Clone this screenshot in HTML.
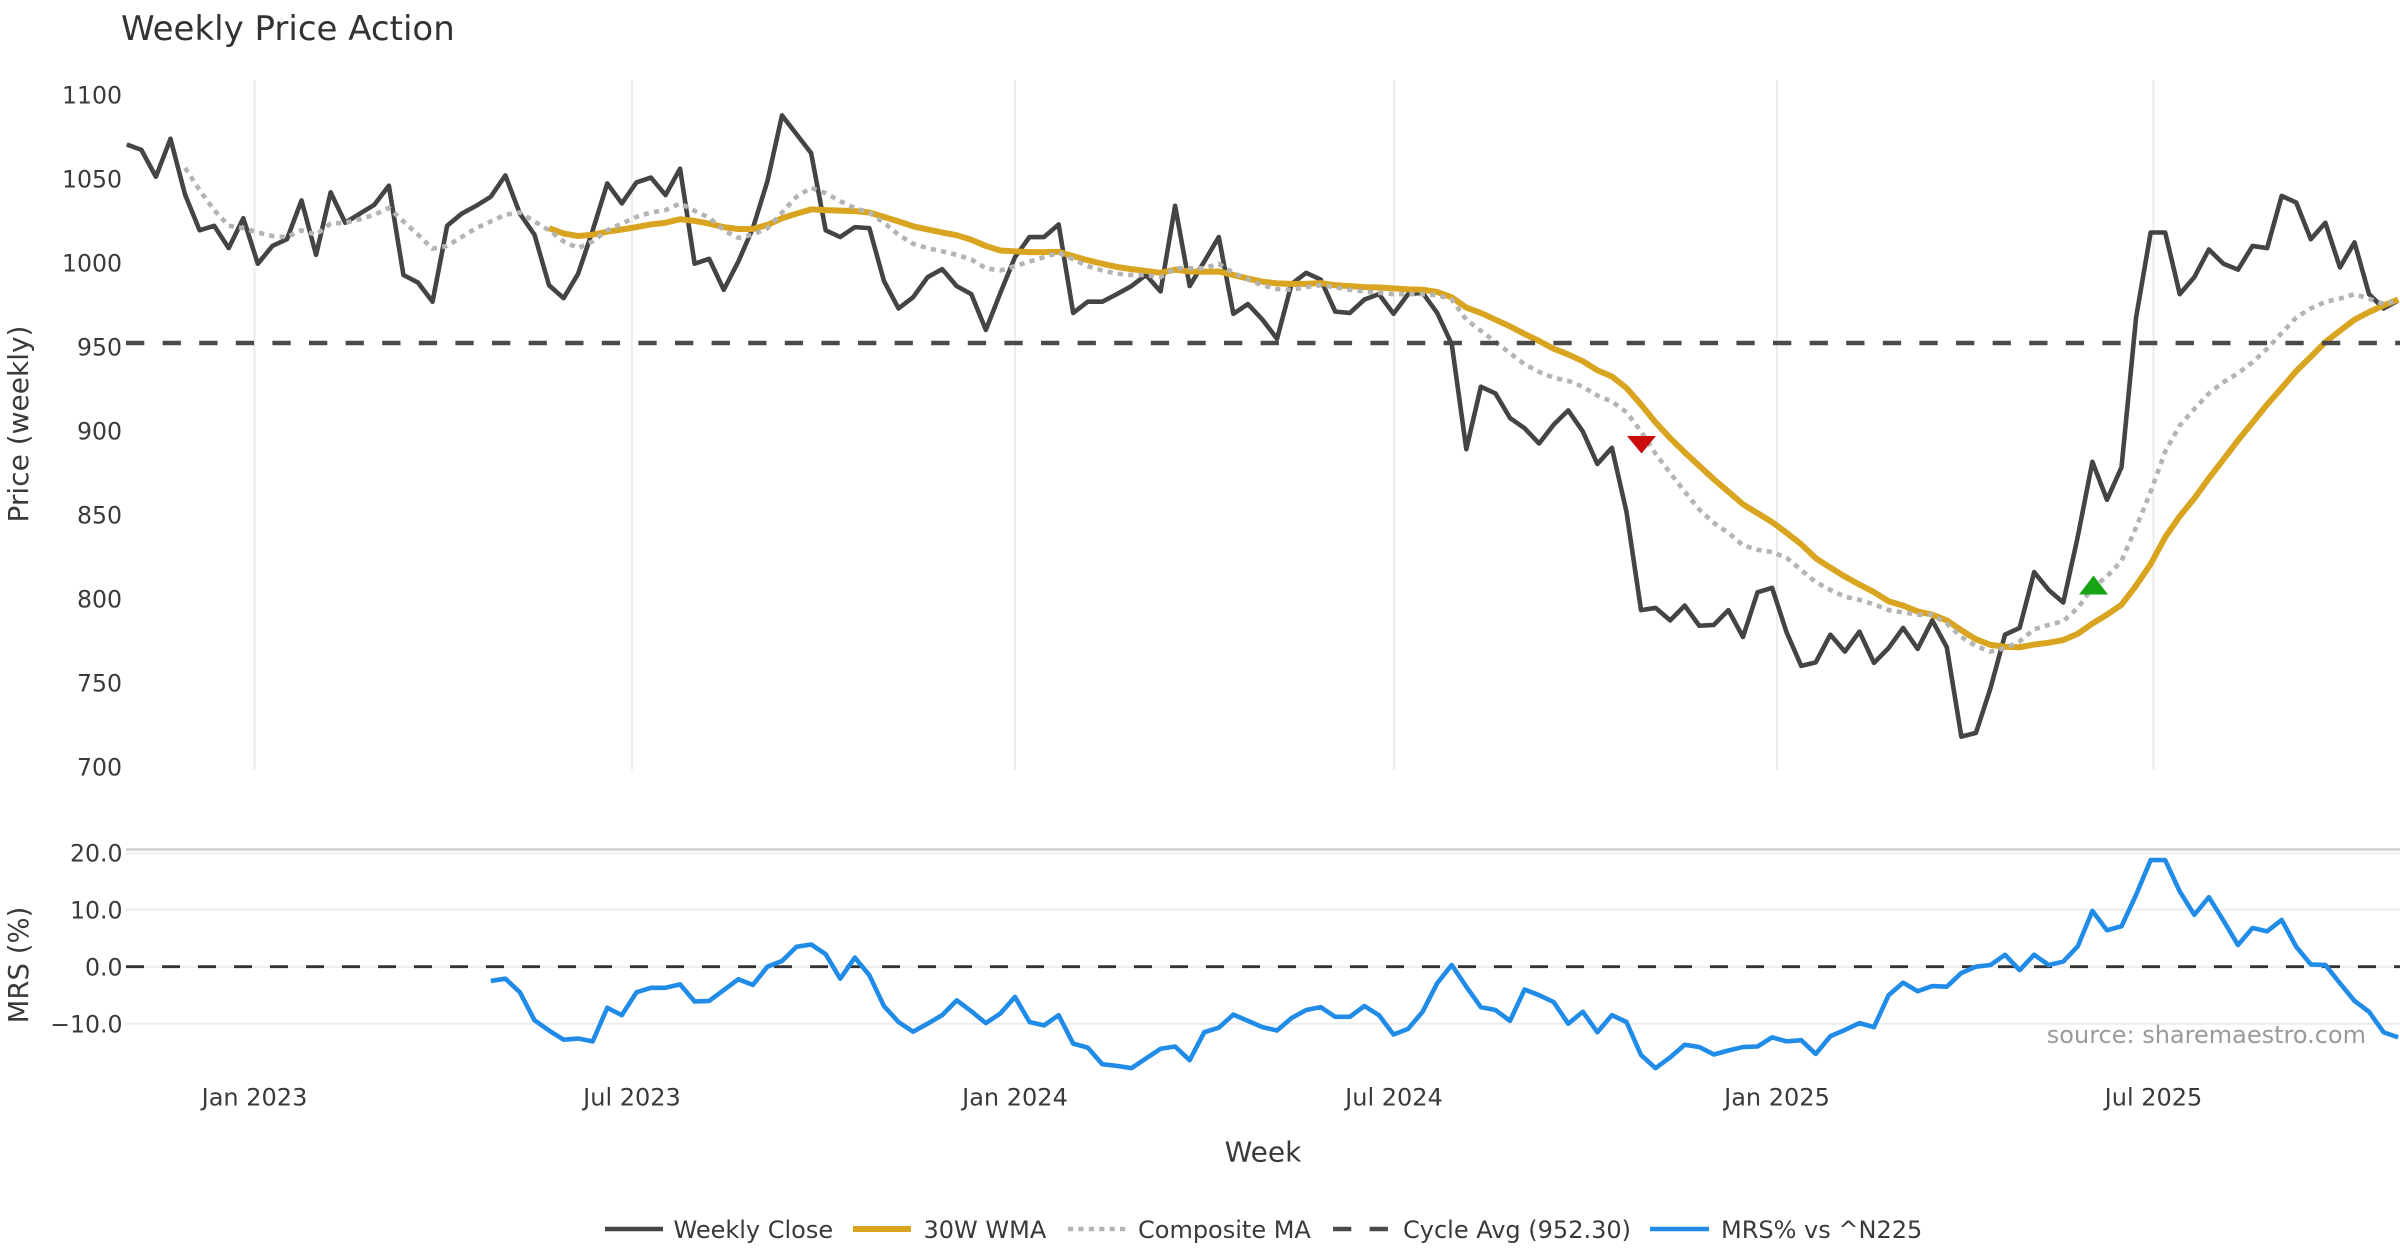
<!DOCTYPE html>
<html>
<head>
<meta charset="utf-8">
<style>
html,body{margin:0;padding:0;background:#fff;width:2400px;height:1260px;overflow:hidden;}
svg{display:block;}
text{font-family:"DejaVu Sans","Liberation Sans",sans-serif;}
</style>
</head>
<body>
<svg xmlns="http://www.w3.org/2000/svg" width="2400" height="1260" viewBox="0 0 2400 1260">
<rect x="0" y="0" width="2400" height="1260" fill="#ffffff"/>

<!-- Title -->
<text x="121" y="40" font-size="34" fill="#333">Weekly Price Action</text>

<!-- Price panel vertical gridlines -->
<g stroke="#ececec" stroke-width="2">
<line x1="254.5" y1="80" x2="254.5" y2="770"/>
<line x1="632" y1="80" x2="632" y2="770"/>
<line x1="1015" y1="80" x2="1015" y2="770"/>
<line x1="1394" y1="80" x2="1394" y2="770"/>
<line x1="1777" y1="80" x2="1777" y2="770"/>
<line x1="2153.5" y1="80" x2="2153.5" y2="770"/>
</g>

<!-- Price y tick labels -->
<g font-size="23.6" fill="#3a3a3a" text-anchor="end">
<text x="122" y="103.5">1100</text>
<text x="122" y="187.5">1050</text>
<text x="122" y="271.5">1000</text>
<text x="122" y="355.5">950</text>
<text x="122" y="439.5">900</text>
<text x="122" y="523.5">850</text>
<text x="122" y="607.5">800</text>
<text x="122" y="691.5">750</text>
<text x="122" y="775.5">700</text>
</g>

<!-- Y axis title price -->
<text x="0" y="0" font-size="28" fill="#3a3a3a" text-anchor="middle" transform="translate(28 424) rotate(-90)">Price (weekly)</text>

<!-- Weekly close -->
<polyline fill="none" stroke="#444444" stroke-width="4.6" stroke-linejoin="round" vector-effect="non-scaling-stroke" transform="matrix(14.56 0 0 -1.6798 126.8 1942.7)" points="0,1070.5 1,1067.3 2,1051.3 3,1073.9 4,1040.7 5,1019.4 6,1022.1 7,1008.8 8,1026.6 9,999.5 10,1010.1 11,1014.1 12,1037.2 13,1004.8 14,1042 15,1023.9 16,1029.3 17,1034.6 18,1046 19,992.8 20,988.3 21,976.9 22,1022.1 23,1029.3 24,1034 25,1039.4 26,1052.1 27,1029.3 28,1016.8 29,986.7 30,979 31,993.6 32,1019.4 33,1047.3 34,1035.4 35,1047.9 36,1050.8 37,1040.4 38,1056.1 39,999.5 40,1002.4 41,984 42,1000.8 43,1020.7 44,1048.7 45,1087.8 46,1076.6 47,1065.4 48,1019.4 49,1015.4 50,1021.3 51,1020.7 52,989.3 53,972.9 54,979.5 55,991.5 56,996.3 57,986.2 58,981.4 59,960.1 60,982.2 61,1003.4 62,1015.4 63,1015.4 64,1022.9 65,970.2 66,976.9 67,976.9 68,981.4 69,986.2 70,992.8 71,983 72,1034 73,986.2 74,1000.8 75,1015.4 76,969.7 77,975.5 78,966.2 79,954.8 80,987.5 81,994.1 82,990.1 83,971 84,970.2 85,978.2 86,981.4 87,969.7 88,981.4 89,982.2 90,970.2 91,951.6 92,889.1 93,926.3 94,922.3 95,907.7 96,901.6 97,892.5 98,903.7 99,912.2 100,899.7 101,880.3 102,889.9 103,851.8 104,793.3 105,794.6 106,787.2 107,796 108,784 109,784.5 110,793.3 111,777.3 112,803.9 113,806.6 114,780 115,760.1 116,762.2 117,778.7 118,768.6 119,780.5 120,761.9 121,770.7 122,782.7 123,770.2 124,787.2 125,771.2 126,718 127,720.2 128,746.8 129,778.7 130,782.7 131,815.9 132,805.3 133,797.8 134,837.2 135,881.6 136,859 137,878.4 138,967.5 139,1018.1 140,1018.1 141,981.4 142,991.5 143,1008 144,999.5 145,996 146,1010.1 147,1008.8 148,1039.9 149,1035.9 150,1014.1 151,1023.9 152,997.3 153,1012.2 154,981.4 155,972.9 156,977.6"/>

<!-- 30W WMA -->
<polyline fill="none" stroke="#d9a521" stroke-width="6" stroke-linejoin="round" vector-effect="non-scaling-stroke" transform="matrix(14.56 0 0 -1.6798 126.8 1942.7)" points="29,1020.7 30,1017.5 31,1016 32,1016.8 33,1018.6 34,1019.9 35,1021.3 36,1022.9 37,1023.9 38,1026 39,1025 40,1023.4 41,1021.3 42,1020.2 43,1020.2 44,1022.6 45,1026.6 46,1029.3 47,1031.9 48,1031.4 49,1031.1 50,1030.8 51,1030 52,1027.4 53,1024.7 54,1021.8 55,1019.9 56,1018.1 57,1016.5 58,1013.8 59,1010.1 60,1007.4 61,1006.9 62,1006.4 63,1006.4 64,1006.6 65,1004 66,1001.6 67,999.5 68,997.6 69,996.3 70,995.2 71,994.1 72,996 73,994.9 74,994.7 75,994.9 76,992.8 77,990.7 78,988.8 79,987.8 80,987.5 81,987.5 82,988 83,986.7 84,986.2 85,985.6 86,985.4 87,984.8 88,984.3 89,984 90,982.7 91,979.5 92,973.4 93,970.2 94,966.2 95,962.2 96,957.7 97,953.5 98,948.9 99,945.5 100,941.5 101,936.1 102,932.4 103,925.5 104,915.7 105,905 106,895.7 107,887.2 108,879.2 109,871.2 110,863.8 111,856.3 112,851 113,845.7 114,839.3 115,832.5 116,824.2 117,818.6 118,813.3 119,808.5 120,804 121,798.6 122,796 123,792.5 124,790.6 125,787.2 126,781.3 127,776 128,772.6 129,771.5 130,771.2 131,772.8 132,773.9 133,775.5 134,779.2 135,785.3 136,790.6 137,796.5 138,807.9 139,820.7 140,836.7 141,849.2 142,859.8 143,871.8 144,883 145,894.4 146,905 147,915.7 148,925.5 149,935.6 150,944.1 151,952.9 152,959.6 153,966.2 154,970.7 155,974.7 156,978.2"/>

<!-- Composite MA -->
<polyline fill="none" stroke="#b4b4b4" stroke-width="4.6" stroke-dasharray="5.2 5.2" vector-effect="non-scaling-stroke" transform="matrix(14.56 0 0 -1.6798 126.8 1942.7)" points="4,1056.6 5,1043.3 6,1031.4 7,1022.1 8,1020.7 9,1018.1 10,1016 11,1015.4 12,1019.4 13,1016.8 14,1023.4 15,1023.9 16,1026 17,1028.7 18,1032.7 19,1024.7 20,1016.8 21,1008.5 22,1010.1 23,1015.4 24,1020.7 25,1024.7 26,1028.7 27,1030 28,1024.7 29,1019.4 30,1012.8 31,1008.8 32,1012.8 33,1019.4 34,1023.4 35,1027.4 36,1030 37,1031.4 38,1035.4 39,1031 40,1027 41,1019.4 42,1014.9 43,1016.8 44,1020.7 45,1030 46,1039.4 47,1044.7 48,1041.5 49,1036.7 50,1032.7 51,1030 52,1023.9 53,1016.8 54,1011.4 55,1008.8 56,1006.9 57,1004.8 58,1002.1 59,996.8 60,995.5 61,998.1 62,1000.8 63,1003.4 64,1006.1 65,1002.1 66,998.1 67,995.5 68,993.6 69,992.8 70,992.8 71,991.5 72,996.8 73,996.8 74,996.8 75,999.5 76,994.1 77,990.1 78,986.7 79,984.4 80,984 81,985.6 82,986.7 83,985.4 84,984 85,983 86,982.2 87,981.4 88,981.4 89,981.4 90,980.8 91,978.2 92,966.2 93,959.6 94,952.9 95,946.3 96,939.6 97,935.1 98,931.6 99,929.8 100,926.3 101,921 102,917.5 103,911.1 104,899.7 105,886.4 106,875 107,863.8 108,853.2 109,845.2 110,839.3 111,831.9 112,829.2 113,827.9 114,824.4 115,817.2 116,810 117,805.3 118,801.3 119,799.4 120,796.8 121,793.3 122,792 123,790.6 124,790.6 125,785.3 126,777.3 127,772 128,768.6 129,770.7 130,774.7 131,781.9 132,784.5 133,786.7 134,794.6 135,806.6 136,813.3 137,822.6 138,842.5 139,863.8 140,887.7 141,903.2 142,913 143,922.3 144,929 145,934.3 146,940.9 147,948.9 148,958.2 149,967.5 150,972.9 151,976.8 152,978.7 153,981.4 154,978.7 155,975.5 156,977.6"/>

<!-- Cycle avg dashed -->
<line x1="126" y1="343" x2="2400" y2="343" stroke="#4a4a4a" stroke-width="4.5" stroke-dasharray="18.3 18.3"/>

<!-- Signal markers -->
<polygon points="1627,436 1656,436 1641.5,453.5" fill="#cc0c0c"/>
<polygon points="2093.5,575.5 2079,594.5 2108,594.5" fill="#16a316"/>

<!-- MRS panel -->
<line x1="126" y1="849.5" x2="2400" y2="849.5" stroke="#cdcdcd" stroke-width="2.5"/>
<g stroke="#ececec" stroke-width="2">
<line x1="126" y1="853.5" x2="2400" y2="853.5"/>
<line x1="126" y1="909.7" x2="2400" y2="909.7"/>
<line x1="126" y1="966.7" x2="2400" y2="966.7"/>
<line x1="126" y1="1023.7" x2="2400" y2="1023.7"/>
</g>
<line x1="126" y1="966.7" x2="2400" y2="966.7" stroke="#333" stroke-width="2.8" stroke-dasharray="18 18"/>

<g font-size="23.6" fill="#3a3a3a" text-anchor="end">
<text x="122.5" y="861.7">20.0</text>
<text x="122.5" y="918.3">10.0</text>
<text x="122.5" y="975.3">0.0</text>
<text x="122.5" y="1032.3">−10.0</text>
</g>
<text x="0" y="0" font-size="27.5" fill="#3a3a3a" text-anchor="middle" transform="translate(28 965) rotate(-90)">MRS (%)</text>

<polyline fill="none" stroke="#218ce8" stroke-width="4.6" stroke-linejoin="round" vector-effect="non-scaling-stroke" transform="matrix(14.56 0 0 -5.7 126.8 966.7)" points="25,-2.5 26,-2.1 27,-4.5 28,-9.4 29,-11.2 30,-12.8 31,-12.6 32,-13.1 33,-7.2 34,-8.5 35,-4.5 36,-3.7 37,-3.7 38,-3.1 39,-6.1 40,-6 41,-4.1 42,-2.2 43,-3.2 44,0 45,1 46,3.5 47,3.9 48,2.2 49,-2.1 50,1.6 51,-1.5 52,-6.9 53,-9.7 54,-11.4 55,-10 56,-8.5 57,-5.9 58,-7.8 59,-9.9 60,-8.2 61,-5.3 62,-9.7 63,-10.3 64,-8.5 65,-13.5 66,-14.2 67,-17.1 68,-17.4 69,-17.8 70,-16.1 71,-14.4 72,-14 73,-16.4 74,-11.5 75,-10.7 76,-8.4 77,-9.5 78,-10.6 79,-11.2 80,-9 81,-7.6 82,-7.1 83,-8.8 84,-8.8 85,-6.9 86,-8.5 87,-11.9 88,-10.9 89,-7.9 90,-2.9 91,0.3 92,-3.5 93,-7.1 94,-7.6 95,-9.5 96,-4 97,-5 98,-6.2 99,-10 100,-7.9 101,-11.5 102,-8.5 103,-9.7 104,-15.5 105,-17.8 106,-15.9 107,-13.7 108,-14.1 109,-15.4 110,-14.7 111,-14.1 112,-14 113,-12.4 114,-13.1 115,-12.9 116,-15.3 117,-12.2 118,-11.1 119,-9.9 120,-10.6 121,-5 122,-2.8 123,-4.3 124,-3.4 125,-3.5 126,-1.1 127,0 128,0.3 129,2.1 130,-0.6 131,2.1 132,0.3 133,0.9 134,3.6 135,9.8 136,6.4 137,7.1 138,12.6 139,18.7 140,18.7 141,13.2 142,9.1 143,12.2 144,8.1 145,3.8 146,6.8 147,6.2 148,8.2 149,3.5 150,0.4 151,0.3 152,-2.9 153,-6 154,-7.9 155,-11.5 156,-12.4"/>

<text x="2366" y="1043" font-size="24" fill="#9a9a9a" text-anchor="end">source: sharemaestro.com</text>

<!-- X tick labels -->
<g font-size="24" fill="#3a3a3a" text-anchor="middle">
<text x="254.5" y="1105.5">Jan 2023</text>
<text x="632" y="1105.5">Jul 2023</text>
<text x="1015" y="1105.5">Jan 2024</text>
<text x="1394" y="1105.5">Jul 2024</text>
<text x="1777" y="1105.5">Jan 2025</text>
<text x="2153.5" y="1105.5">Jul 2025</text>
</g>
<text x="1263" y="1161.5" font-size="28" fill="#3a3a3a" text-anchor="middle">Week</text>

<!-- Legend -->
<line x1="605" y1="1229" x2="663" y2="1229" stroke="#444444" stroke-width="4.6"/>
<text x="673.5" y="1237.8" font-size="24" fill="#3a3a3a">Weekly Close</text>
<line x1="853" y1="1229" x2="911" y2="1229" stroke="#d9a521" stroke-width="6"/>
<text x="923.5" y="1237.8" font-size="24" fill="#3a3a3a">30W WMA</text>
<line x1="1068" y1="1229" x2="1126" y2="1229" stroke="#b4b4b4" stroke-width="4.6" stroke-dasharray="5.2 5.2"/>
<text x="1138" y="1237.8" font-size="24" fill="#3a3a3a">Composite MA</text>
<line x1="1333" y1="1229" x2="1389" y2="1229" stroke="#4a4a4a" stroke-width="4.5" stroke-dasharray="18.3 18.3"/>
<text x="1403" y="1237.8" font-size="24" fill="#3a3a3a">Cycle Avg (952.30)</text>
<line x1="1650" y1="1229" x2="1709" y2="1229" stroke="#218ce8" stroke-width="4.6"/>
<text x="1721" y="1237.8" font-size="24" fill="#3a3a3a">MRS% vs ^N225</text>
</svg>
</body>
</html>
